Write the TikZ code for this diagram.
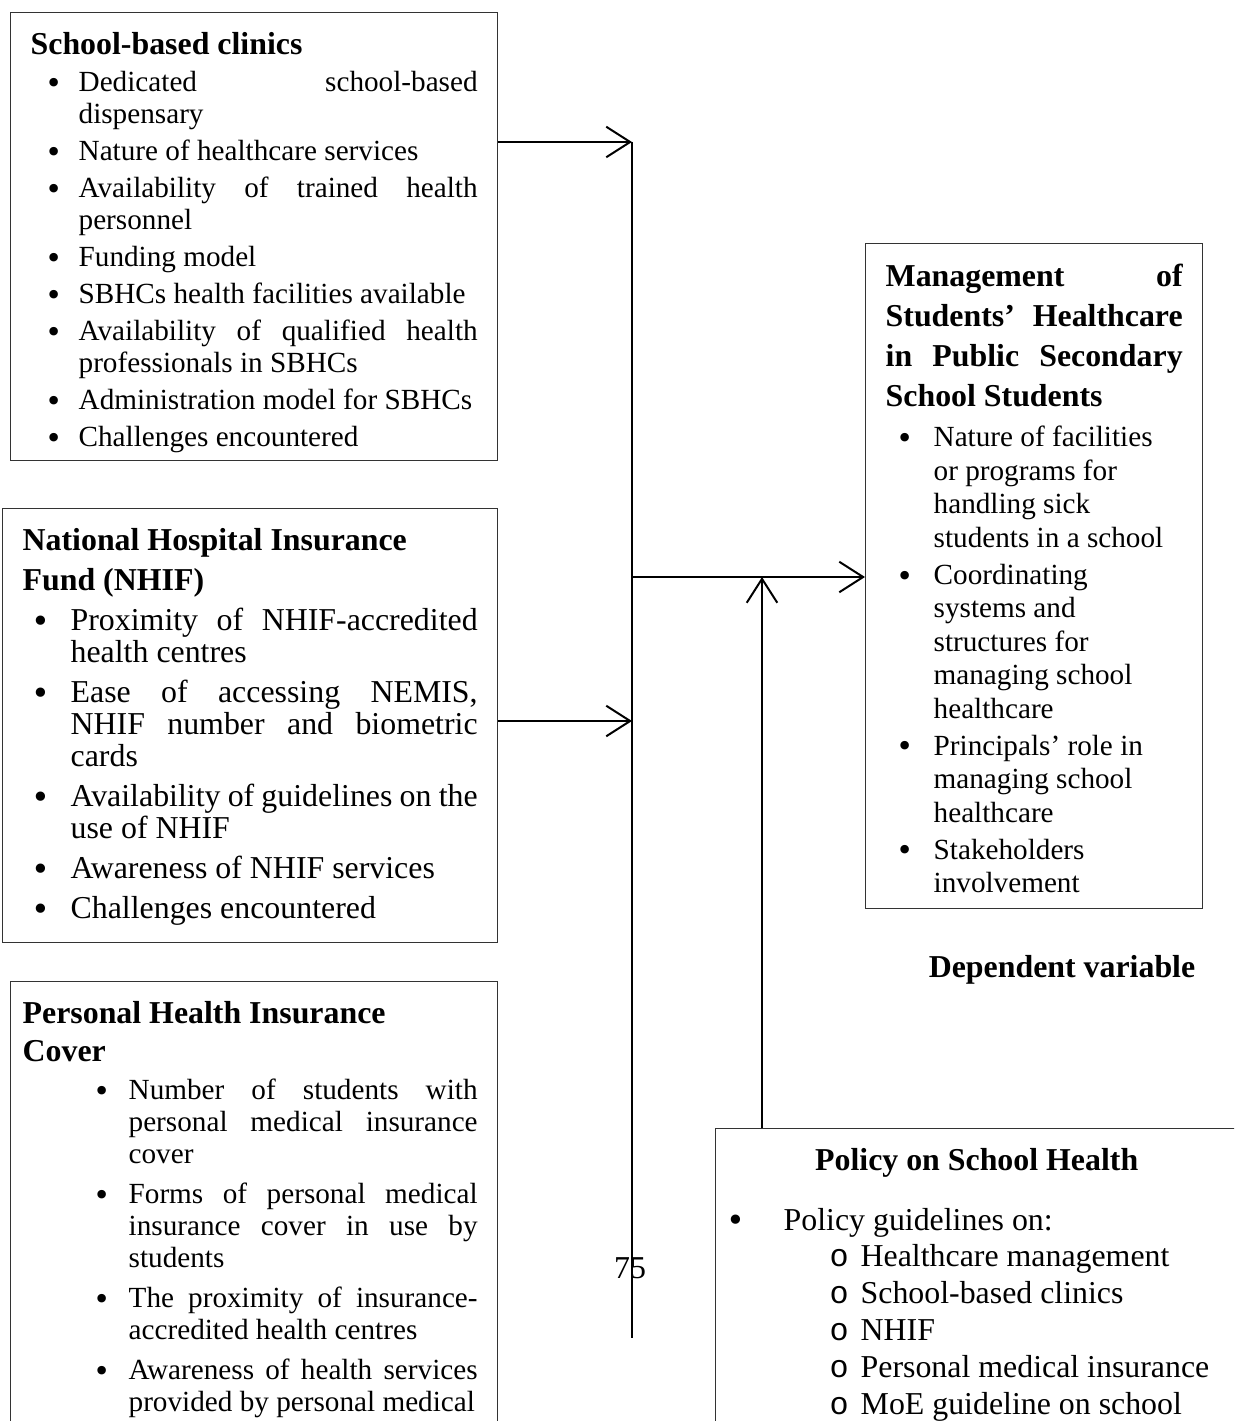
\documentclass[tikz,border=0pt]{standalone}
\usepackage{fontspec}
\setmainfont{Liberation Serif}
\newfontfamily\courierfont{Liberation Mono}
\newfontfamily\bulletfont{DejaVu Sans}
\usepackage{enumitem}
\usetikzlibrary{arrows.meta}

\newdimen\px \px=0.3766pt
\hyphenpenalty=10000
\exhyphenpenalty=10000
\tolerance=10000

\newcommand{\headfont}{\fontsize{12}{15.06}\selectfont\bfseries}
\newcommand{\smallbody}{\fontsize{11}{12.05}\selectfont}
\newcommand{\largebody}{\fontsize{12}{12.05}\selectfont}
\newcommand{\bigbullet}{\raisebox{-0.06em}{\bulletfont •}}
\setlist[itemize,1]{label=\bigbullet}

\tikzstyle{varbox}=[
    draw=black!80,
    line width=0.5pt,
    inner sep=20\px,
    anchor=north west,
  ]
\tikzstyle{dep}=[
    -{Straight Barb[length=9pt,width=11.5pt]},
    line width=0.75pt,
  ]

\begin{document}
\begin{tikzpicture}[x=0.3766pt, y=-0.3766pt]
  \useasboundingbox (0,0) rectangle (1234,1421);
  \clip (0,0) rectangle (1234,1421);
  \fill[white] (0,0) rectangle (1234,1421);

  % independent variables
  \node[varbox] (clinics) at (10,12) {\parbox[c][408\px][t]{447\px}{\smallbody
      {\headfont School-based clinics\par}
      \begin{itemize}[leftmargin=48\px, labelsep=16\px, topsep=1.85pt, itemsep=1.9pt, parsep=0pt, partopsep=0pt]
        \item Dedicated school-based\linebreak dispensary
        \item Nature of healthcare services
        \item Availability of trained health\linebreak personnel
        \item Funding model
        \item SBHCs health facilities available
        \item Availability of qualified health\linebreak professionals in SBHCs
        \item Administration model for SBHCs
        \item Challenges encountered
      \end{itemize}}};
  \node[varbox] (nhif) at (2,508) {\parbox[c][394\px][t]{455\px}{\largebody
      {\headfont National Hospital Insurance\\ Fund (NHIF)\par}
      \begin{itemize}[leftmargin=48\px, labelsep=20\px, topsep=3pt, itemsep=3pt, parsep=0pt, partopsep=0pt]
        \item Proximity of NHIF-accredited\linebreak health centres
        \item Ease of accessing NEMIS,\linebreak NHIF number and biometric\linebreak cards
        \item Availability of guidelines on the\linebreak use of NHIF
        \item Awareness of NHIF services
        \item Challenges encountered
      \end{itemize}}};
  \node[varbox, inner xsep=12\px] (personal) at (10,981) {\parbox[c][479\px][t]{463\px}{\smallbody
      {\fontsize{12}{14.3}\selectfont\bfseries Personal Health Insurance\\ Cover\par}
      \begin{itemize}[leftmargin=106\px, rightmargin=8\px, labelsep=18\px, topsep=2.25pt, itemsep=3pt, parsep=0pt, partopsep=0pt]
        \item Number of students with\linebreak personal medical insurance\linebreak cover
        \item Forms of personal medical\linebreak insurance cover in use by\linebreak students
        \item The proximity of insurance-\linebreak accredited health centres
        \item Awareness of health services\linebreak provided by personal medical
      \end{itemize}}};

  % dependent variable
  \node[varbox] (management) at (865,243) {\parbox[c][625\px][t]{297\px}{\fontsize{11}{12.6}\selectfont
      {\headfont Management of\linebreak Students' Healthcare\linebreak in Public Secondary\linebreak School Students\par}
      \raggedright
      \begin{itemize}[leftmargin=48\px, labelsep=20\px, topsep=2.8pt, itemsep=1.35pt, parsep=0pt, partopsep=0pt]
        \item Nature of facilities\newline or programs for\newline handling sick\newline students in a school
        \item Coordinating\newline systems and\newline structures for\newline managing school\newline healthcare
        \item Principals' role in\newline managing school\newline healthcare
        \item Stakeholders\newline involvement
      \end{itemize}}};
  \node[font=\headfont] (depvar) at (1062,970) {Dependent variable};

  % intervening variable
  \node[varbox] (policy) at (715,1128) {\parbox[c][400\px][t]{482\px}{\fontsize{12}{13.9}\selectfont
      {\centering\headfont Policy on School Health\par}
      \begin{itemize}[leftmargin=48\px, labelsep=38\px, topsep=8.4pt, itemsep=0pt, parsep=0pt, partopsep=0pt]
        \item Policy guidelines on:
        \begin{itemize}[leftmargin=77\px, labelsep=12\px, label={\courierfont o}, topsep=0pt, itemsep=0pt, parsep=0pt, partopsep=0pt]
          \item Healthcare management
          \item School-based clinics
          \item NHIF
          \item Personal medical insurance
          \item MoE guideline on school
        \end{itemize}
      \end{itemize}}};

  \node (pageno) at (630,1268) {\fontsize{12}{14}\selectfont 75};

  % connectors
  \coordinate (trunktop) at (632,142);
  \coordinate (trunkbot) at (632,1338);
  \coordinate (nhifin) at (632,721);
  \coordinate (joint) at (632,577);
  \coordinate (policyin) at (762,577);
  \draw[line width=0.75pt] (trunktop) -- (trunkbot);
  \foreach \src/\dst in {clinics/trunktop, nhif/nhifin} {%
    \draw[dep] (\src.east |- \dst) -- (\dst);
  }
  \draw[dep] (joint) -- (joint -| management.west);
  \draw[dep] (policyin |- policy.north) -- (policyin);
\end{tikzpicture}
\end{document}
